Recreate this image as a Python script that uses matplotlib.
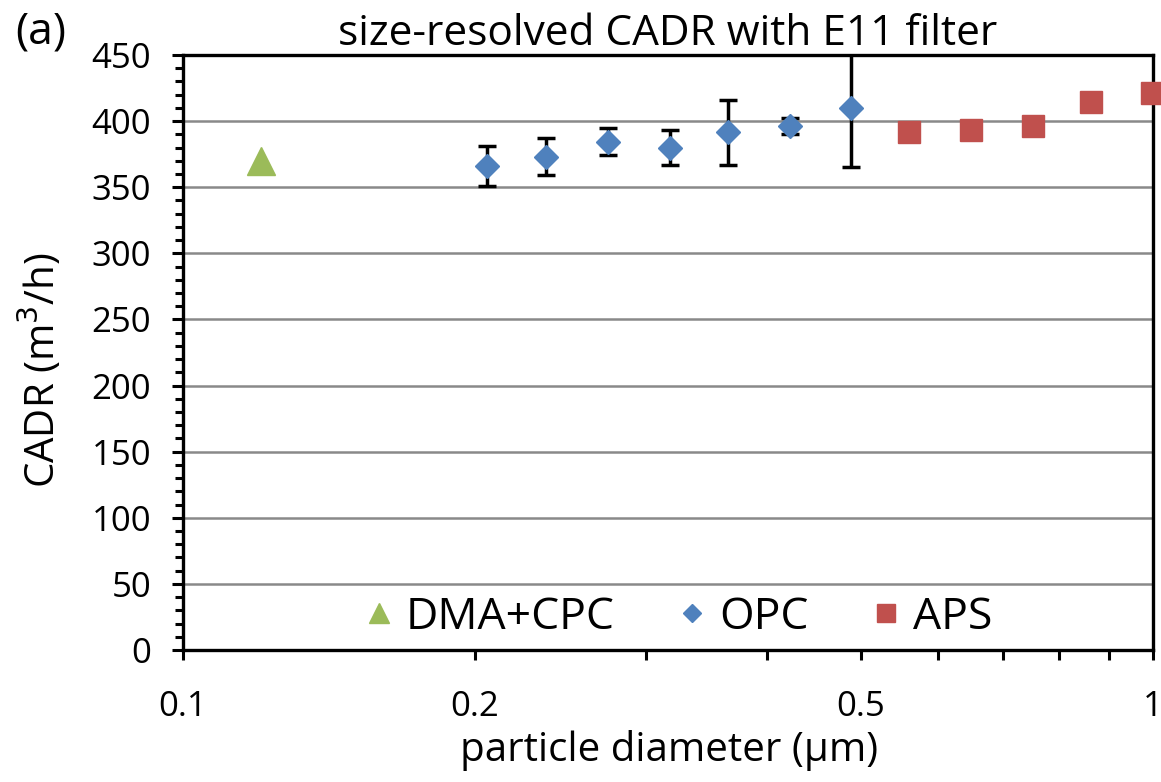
import numpy as np
import matplotlib
matplotlib.use("Agg")
import matplotlib.pyplot as plt
from matplotlib.lines import Line2D
from matplotlib.ticker import FixedLocator, NullFormatter, MultipleLocator

plt.rcParams['font.family'] = ['Open Sans', 'DejaVu Sans']

# DMA+CPC
dma_d = [0.1203]
dma_cadr = [370]

# OPC (with error bars)
opc_d = [0.2058, 0.237, 0.2745, 0.318, 0.3647, 0.4225, 0.488]
opc_cadr = [366, 373, 384.5, 380, 391.5, 396, 410]
opc_err = [15, 14, 10.5, 13, 24.5, 6, 44.5]

# APS
aps_d = [0.561, 0.649, 0.752, 0.864, 0.997]
aps_cadr = [391.5, 393.5, 396, 414.5, 421.5]

green, blue, red = '#9BBB59', '#4F81BD', '#C0504D'

fig = plt.figure(figsize=(11.61, 7.82), dpi=100)
ax = fig.add_axes([0.1576, 0.1688, 0.8355, 0.7609])

ax.set_xscale('log')
ax.set_xlim(0.1, 1)
ax.set_ylim(0, 450)

ax.yaxis.set_major_locator(MultipleLocator(50))
ax.yaxis.set_minor_locator(MultipleLocator(10))
ax.grid(axis='y', which='major', color='#898989', linewidth=1.8, zorder=0)
ax.set_axisbelow(True)

ax.xaxis.set_major_locator(FixedLocator([0.1, 0.2, 0.5, 1]))
ax.xaxis.set_minor_locator(FixedLocator([0.3, 0.4, 0.6, 0.7, 0.8, 0.9]))
ax.set_xticklabels(['0.1', '0.2', '0.5', '1'])
ax.xaxis.set_minor_formatter(NullFormatter())

ax.plot(dma_d, dma_cadr, linestyle='none', marker='^', markersize=20,
        color=green, zorder=3, clip_on=False)
ax.errorbar(opc_d, opc_cadr, yerr=opc_err, fmt='D', markersize=12,
            color=blue, ecolor='black', elinewidth=2.5, capsize=6.5,
            capthick=2.5, zorder=3)
ax.plot(aps_d, aps_cadr, linestyle='none', marker='s', markersize=16,
        color=red, zorder=3, clip_on=False)

for s in ax.spines.values():
    s.set_linewidth(2.4)
    s.set_color('black')

ax.tick_params(axis='y', which='major', direction='out', length=8, width=2.2,
               labelsize=25, pad=15)
ax.tick_params(axis='y', which='minor', direction='out', length=5.5, width=2.2)
ax.tick_params(axis='x', which='both', direction='out', length=7.5, width=2.2,
               labelsize=25, pad=21)

ax.set_title('size-resolved CADR with E11 filter', fontsize=30.5, pad=3)
ax.set_ylabel('CADR (m$^3$/h)', fontsize=29)
ax.yaxis.set_label_coords(-0.122, 0.47)
ax.set_xlabel('particle diameter (µm)', fontsize=29)
ax.xaxis.set_label_coords(0.501, -0.135)
fig.text(0.013, 0.987, '(a)', fontsize=32, va='top', ha='left')

handles = [
    Line2D([], [], linestyle='none', marker='^', markersize=15, color=green),
    Line2D([], [], linestyle='none', marker='D', markersize=9, color=blue),
    Line2D([], [], linestyle='none', marker='s', markersize=13, color=red),
]
labels = ['DMA+CPC', 'OPC', 'APS']
ax.legend(handles, labels, loc='center', ncol=3, frameon=False,
          fontsize=32, handlelength=0.7, handletextpad=0.25,
          columnspacing=1.4, bbox_to_anchor=(0.51, 0.055))

fig.savefig('out.png', dpi=100)
